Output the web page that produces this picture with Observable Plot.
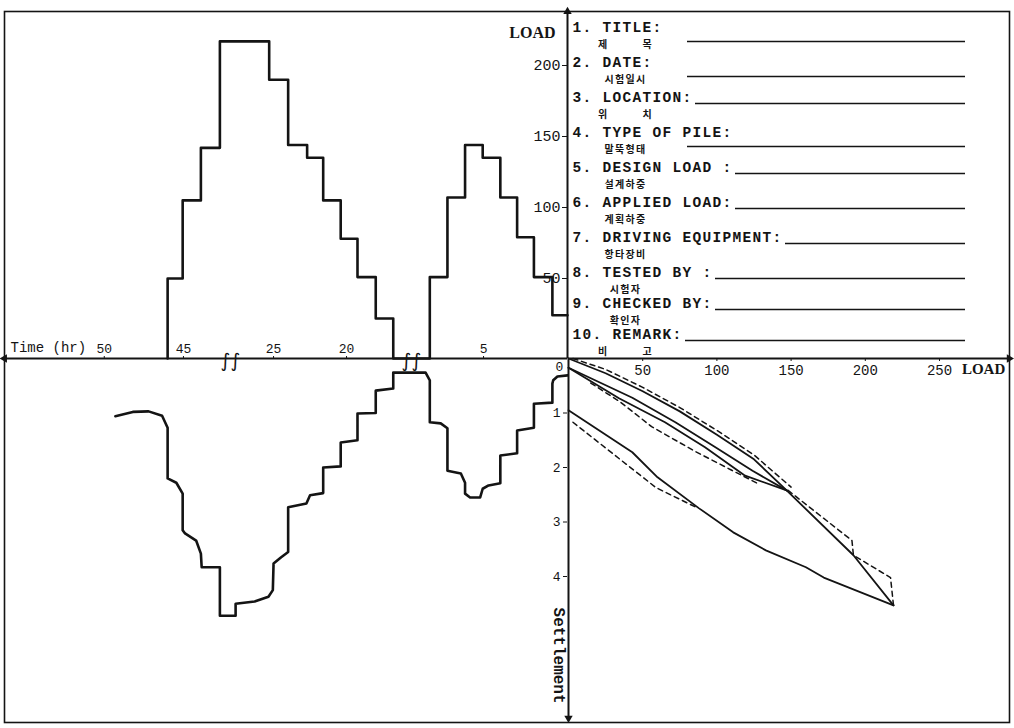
<!DOCTYPE html>
<html>
<head>
<meta charset="utf-8">
<script src="https://cdn.jsdelivr.net/npm/d3@7"></script>
<script src="https://cdn.jsdelivr.net/npm/@observablehq/plot@0.6"></script>
<style>
html, body { margin: 0; padding: 0; background: #fff; }
#chart { position: relative; width: 1014px; height: 728px; overflow: hidden; background: #fff; }
#chart svg { position: absolute; left: 0; top: 0; }
</style>
</head>
<body>
<div id="chart"></div>
<script>
// ---------- DATA ----------
// Load vs time (top-left), step values; time in hours (axis runs right-to-left)
const loadTime  = [0, 0.9, 2.0, 3.0, 4.0, 5.05, 6.1, 7.15, 8.2, 16.8, 18.0, 19.25, 20.4, 21.6, 22.7, 24.0, 25.3, 42.7, 43.9, 45.05, 46.0];
const loadValue = [27, 51, 79, 107, 135, 144, 107, 51, 0, 25, 51, 78, 105, 135, 144, 190, 217, 142, 105, 50, 0];

// Settlement vs time (bottom-left)
const settleTime  = [0, 0.6, 0.85, 0.9, 0.9, 2.0, 2.0, 3.0, 3.0, 4.0, 4.0, 4.7, 5.05, 5.2, 5.8, 6.1, 6.1, 6.35, 7.15, 7.15, 7.55, 8.2, 8.2, 8.45, 16.8, 16.8, 18.0, 18.0, 19.25, 19.25, 20.4, 20.4, 21.6, 21.6, 22.5, 22.75, 24.0, 24.0, 24.5, 25.0, 25.05, 25.35, 26.3, 27.6, 27.6, 42.7, 42.7, 43.85, 43.9, 44.2, 44.9, 45.05, 45.05, 45.45, 46.0, 46.0, 46.35, 47.2, 48.2, 49.3];
const settleValue = [0.31, 0.33, 0.40, 0.46, 0.81, 0.83, 1.27, 1.32, 1.74, 1.78, 2.29, 2.33, 2.39, 2.55, 2.55, 2.48, 2.28, 2.11, 2.06, 1.28, 1.19, 1.17, 0.40, 0.26, 0.26, 0.55, 0.59, 1.00, 1.01, 1.50, 1.54, 1.98, 2.00, 2.47, 2.51, 2.66, 2.73, 3.55, 3.65, 3.76, 4.25, 4.37, 4.46, 4.50, 4.72, 4.72, 3.83, 3.83, 3.58, 3.34, 3.21, 3.15, 2.48, 2.28, 2.20, 1.27, 1.05, 0.97, 0.98, 1.06];

// Load-settlement curves (bottom-right)
const loading1Load   = [0, 25, 50, 75, 100, 125, 147];
const loading1Settle = [0, 0.27, 0.60, 0.97, 1.40, 1.85, 2.42];
const loading1DashLoad   = [3, 25, 50, 75, 100, 125, 150];
const loading1DashSettle = [0, 0.20, 0.53, 0.90, 1.32, 1.77, 2.36];
const unloading1Load   = [147, 124, 99, 72, 43, 0];
const unloading1Settle = [2.42, 2.06, 1.63, 1.17, 0.72, 0.17];
const reloading2Load   = [0, 34, 65, 92, 119, 147];
const reloading2Settle = [0.17, 0.73, 1.17, 1.63, 2.15, 2.42];
const reloading2DashLoad   = [15, 35, 56, 85, 110, 128];
const reloading2DashSettle = [0.45, 0.80, 1.25, 1.70, 2.05, 2.30];
const loading2Load   = [147, 192, 219];
const loading2Settle = [2.42, 3.61, 4.53];
const loading2DashLoad   = [148, 191, 192, 217, 219];
const loading2DashSettle = [2.42, 3.34, 3.61, 4.02, 4.53];
const unloading2Load   = [219, 172, 160, 133, 111, 88, 60, 43, 0];
const unloading2Settle = [4.53, 4.02, 3.83, 3.52, 3.19, 2.75, 2.18, 1.72, 0.95];
const unloading2DashLoad   = [3, 59, 86];
const unloading2DashSettle = [1.17, 2.37, 2.73];

// Tick labels
const loadTicksTop   = [50, 100, 150, 200];
const timeTicks      = [50, 45, 25, 20, 5];
const loadTicksRight = [50, 100, 150, 200, 250];
const settleTicks    = [1, 2, 3, 4];

// Form text
const formLabel  = ["TITLE:", "DATE:", "LOCATION:", "TYPE OF PILE:", "DESIGN LOAD :", "APPLIED LOAD:", "DRIVING EQUIPMENT:", "TESTED BY :", "CHECKED BY:", "REMARK:"];
const formKorean = ["제\u3000\u3000\u3000목", "시험일시", "위\u3000\u3000\u3000치", "말뚝형태", "설계하중", "계획하중", "항타장비", "시험자", "확인자", "비\u3000\u3000\u3000고"];

// ---------- RENDER ----------
const W = 1014, H = 728;
const INK = "#141414";
const mono = "'Liberation Mono', 'DejaVu Sans Mono', monospace";
const serif = "'Liberation Serif', 'DejaVu Serif', serif";
const kr = "'Noto Sans CJK KR', sans-serif";
const pts = (xs, ys) => xs.map((x, i) => ({x, y: ys[i]}));
const intFmt = d3.format("d");

// scales (time axis has two breaks)
const timeDomain = [0, 9.29, 15.55, 27.95, 42.03, 56.3];
const timeScale = {type: "linear", domain: timeDomain, range: [567, 411, 411, 230, 230, 4], axis: null};
const breaks = [(timeDomain[1] + timeDomain[2]) / 2, (timeDomain[3] + timeDomain[4]) / 2];
const loadScaleY = {type: "linear", domain: [0, 50, 200], range: [358, 278, 65], axis: null};
const settleScale = {type: "linear", domain: [0, 4], range: [358, 576], axis: null};
const loadScaleX = {type: "linear", domain: [0, 250], range: [568, 939], axis: null};
const loadTop = 238, timeEnd = timeDomain[timeDomain.length - 1], loadEnd = 297, settleEnd = 6.6;

const baseStyle = {background: "transparent", color: INK, fontFamily: mono, fontSize: "13px", overflow: "visible"};
const chart = document.getElementById("chart");

// frame
chart.append(Plot.plot({
  width: W, height: H, marginLeft: 4, marginTop: 11, marginRight: 5, marginBottom: 6,
  style: baseStyle,
  x: {domain: [0, 1], axis: null}, y: {domain: [0, 1], axis: null},
  marks: [Plot.frame({stroke: INK, strokeWidth: 1.6})]
}));

// bottom-left: settlement vs time
chart.append(Plot.plot({
  width: W, height: H, margin: 0,
  style: baseStyle,
  x: timeScale, y: settleScale,
  marks: [
    Plot.line(pts(settleTime, settleValue), {x: "x", y: "y", stroke: INK, strokeWidth: 2.6, strokeLinejoin: "round"})
  ]
}));

// bottom-right: load vs settlement
const dashed = {stroke: INK, strokeWidth: 1.5, strokeDasharray: "5,4"};
const solid = {stroke: INK, strokeWidth: 1.8, strokeLinejoin: "round"};
chart.append(Plot.plot({
  width: W, height: H, marginLeft: 567, marginBottom: 370, marginTop: 0, marginRight: 0,
  style: baseStyle,
  x: loadScaleX, y: settleScale,
  marks: [
    Plot.ruleX([0], {y1: 0, y2: settleEnd, stroke: INK, strokeWidth: 2}),
    Plot.ruleY([0], {x1: 0, x2: loadEnd, stroke: INK, strokeWidth: 2}),
    Plot.dot([0], {x: 0, y: settleEnd, symbol: "triangle2", r: 4, fill: INK, rotate: 180}),
    Plot.dot([0], {x: loadEnd, y: 0, symbol: "triangle2", r: 4, fill: INK, rotate: 90}),
    Plot.axisX(loadTicksRight, {anchor: "bottom", tickSize: 3, tickPadding: 4, label: null, tickFormat: intFmt, fontSize: 14, fontFamily: mono}),
    Plot.axisY(settleTicks, {anchor: "left", tickSize: 4, tickPadding: 3, label: null, tickFormat: intFmt, fontSize: 13, fontFamily: mono}),
    Plot.text(["0"], {x: 0, y: 0, text: d => d, dx: -9, dy: 8, fontSize: 13, fontFamily: mono, fill: INK}),
    Plot.text(["LOAD"], {x: loadEnd, y: 0, text: d => d, textAnchor: "end", dx: -4, dy: 11, fontSize: 15, fontFamily: serif, fontWeight: "bold", fill: INK}),
    Plot.text(["Settlement"], {x: 0, y: 5.45, text: d => d, rotate: 90, dx: -9, fontSize: 16, fontFamily: mono, fontWeight: "bold", fill: INK}),
    Plot.line(pts(loading1Load, loading1Settle), {x: "x", y: "y", ...solid}),
    Plot.line(pts(loading1DashLoad, loading1DashSettle), {x: "x", y: "y", ...dashed}),
    Plot.line(pts(unloading1Load, unloading1Settle), {x: "x", y: "y", ...solid}),
    Plot.line(pts(reloading2Load, reloading2Settle), {x: "x", y: "y", ...solid}),
    Plot.line(pts(reloading2DashLoad, reloading2DashSettle), {x: "x", y: "y", ...dashed}),
    Plot.line(pts(loading2Load, loading2Settle), {x: "x", y: "y", ...solid}),
    Plot.line(pts(loading2DashLoad, loading2DashSettle), {x: "x", y: "y", ...dashed}),
    Plot.line(pts(unloading2Load, unloading2Settle), {x: "x", y: "y", ...solid}),
    Plot.line(pts(unloading2DashLoad, unloading2DashSettle), {x: "x", y: "y", ...dashed})
  ]
}));

// top-left: load vs time
chart.append(Plot.plot({
  width: W, height: H, marginLeft: 567, marginTop: 358, marginRight: 0, marginBottom: 0,
  style: baseStyle,
  x: timeScale, y: loadScaleY,
  marks: [
    Plot.ruleX([0], {y1: 0, y2: loadTop, stroke: INK, strokeWidth: 2}),
    Plot.ruleY([0], {x1: 0, x2: timeEnd, stroke: INK, strokeWidth: 2}),
    Plot.dot([0], {x: 0, y: loadTop, symbol: "triangle2", r: 4, fill: INK, rotate: 0}),
    Plot.dot([0], {x: timeEnd, y: 0, symbol: "triangle2", r: 4, fill: INK, rotate: -90}),
    Plot.axisY(loadTicksTop, {anchor: "left", tickSize: 5, tickPadding: 2, label: null, tickFormat: intFmt, fontSize: 15, fontFamily: mono}),
    Plot.axisX(timeTicks, {anchor: "top", tickSize: 3, tickPadding: 3, label: null, tickFormat: intFmt, fontSize: 13, fontFamily: mono}),
    Plot.text(["LOAD"], {x: 0, y: 223, text: d => d, textAnchor: "end", dx: -12, fontSize: 16, fontFamily: serif, fontWeight: "bold", fill: INK}),
    Plot.text(["Time (hr)"], {x: timeEnd, y: 0, text: d => d, textAnchor: "start", dx: 6, dy: -11, fontSize: 14, fontFamily: mono, fill: INK}),
    Plot.text(breaks, {x: d => d, y: 0, text: () => "\u222B\u222B", fontSize: 19, fontFamily: "'DejaVu Sans', sans-serif", fill: INK, dy: 2}),
    Plot.line(pts(loadTime, loadValue), {x: "x", y: "y", curve: "step-after", stroke: INK, strokeWidth: 2.6, strokeLinejoin: "round"})
  ]
}));

// top-right: form (English row, Korean sub-row, fill-in line)
const lineOnSubRow = [true, true, false, true, false, false, false, false, false, false];
const formItems = formLabel.map((lab, i) => ({n: i + 1, en: `${i + 1}. ${lab}`, ko: formKorean[i], sub: lineOnSubRow[i]}));
chart.append(Plot.plot({
  width: W, height: H, margin: 0,
  style: {...baseStyle, letterSpacing: "1.3px"},
  x: {type: "linear", domain: [0, 39.3], range: [572, 965], axis: null},
  y: {type: "linear", domain: [1, 8, 9, 10], range: [27, 272, 303, 334], axis: null},
  marks: [
    Plot.text(formItems, {x: 0, y: "n", text: "en", textAnchor: "start", fontSize: 14.5, fontFamily: mono, fontWeight: "bold", fill: INK}),
    Plot.text(formItems, {x: 5.3, y: "n", text: "ko", dy: 17.5, fontSize: 10, fontFamily: kr, fontWeight: "bold", fill: INK}),
    Plot.ruleY(formItems.filter(d => d.sub), {y: "n", x1: 11.5, x2: 39.3, dy: 14, stroke: INK, strokeWidth: 1.6}),
    Plot.ruleY(formItems.filter(d => !d.sub), {y: "n", x1: d => d.en.length + 0.3, x2: 39.3, dy: 6, stroke: INK, strokeWidth: 1.6})
  ]
}));
</script>
</body>
</html>
